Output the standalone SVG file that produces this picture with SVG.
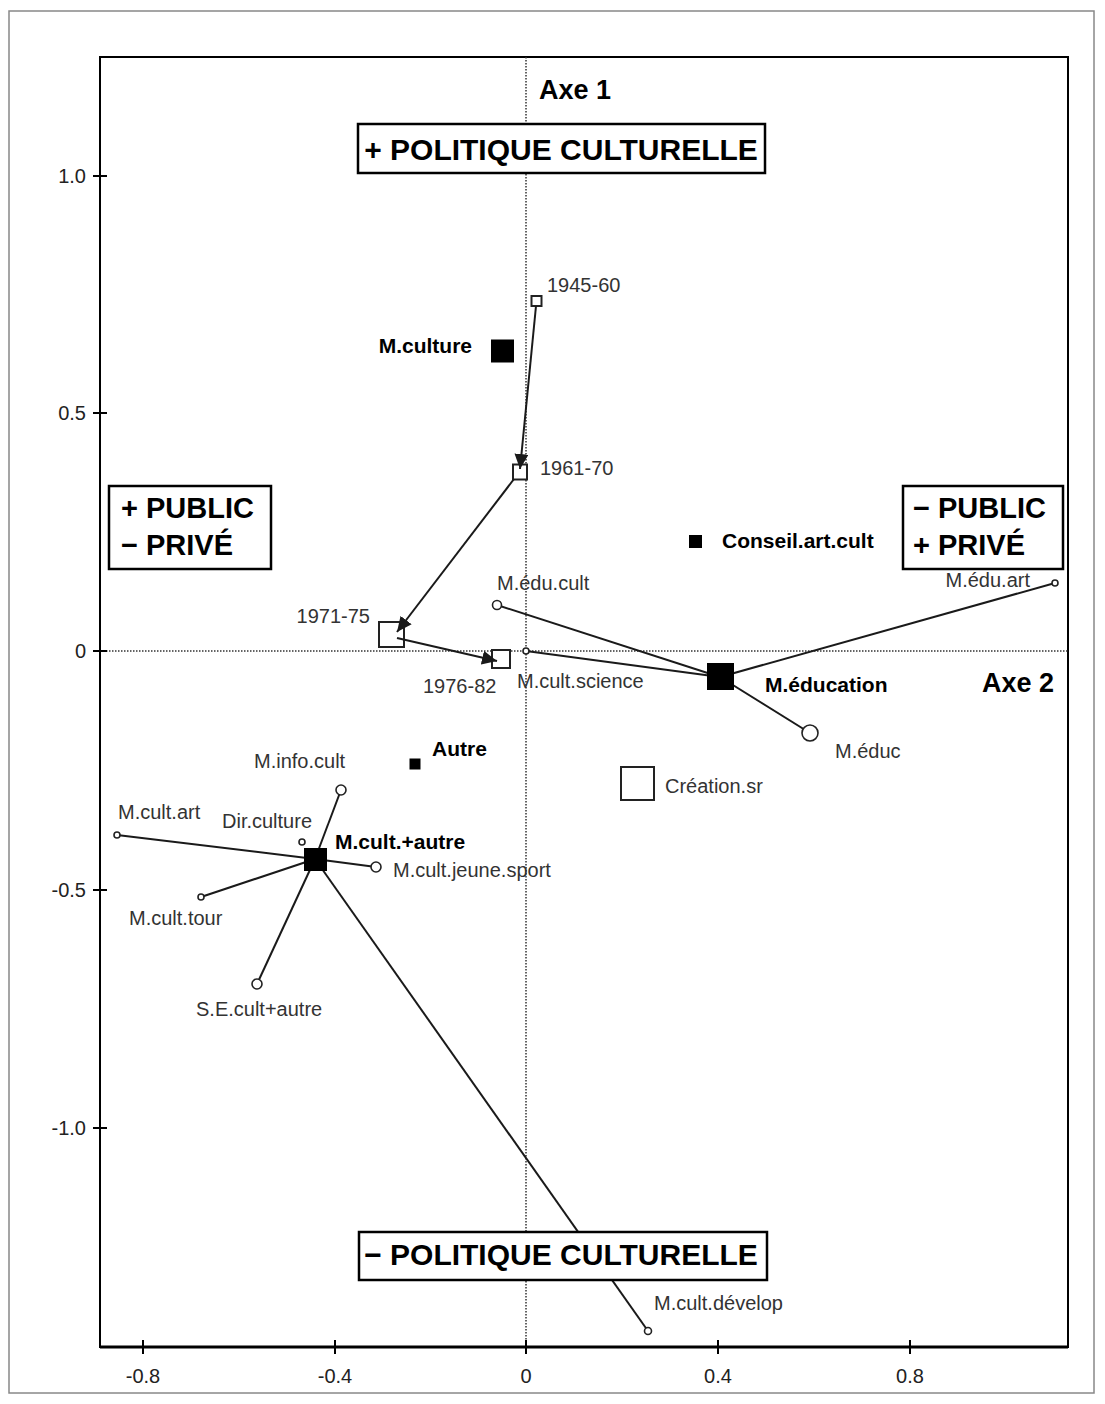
<svg xmlns="http://www.w3.org/2000/svg" width="1105" height="1404" viewBox="0 0 1105 1404">
<style>
.lbl{font-family:"Liberation Sans",Arial,sans-serif;font-size:20px;fill:#333}
.bl{font-family:"Liberation Sans",Arial,sans-serif;font-size:21px;font-weight:bold;fill:#000}
.big{font-family:"Liberation Sans",Arial,sans-serif;font-size:30px;font-weight:bold;fill:#000}
.box{font-family:"Liberation Sans",Arial,sans-serif;font-size:29px;font-weight:bold;fill:#000}
.tick{font-family:"Liberation Sans",Arial,sans-serif;font-size:20px;fill:#222}
.ax{stroke:#333;stroke-width:1.5;stroke-dasharray:1.5 1.5;fill:none}
.ln{stroke:#1a1a1a;stroke-width:2;fill:none}
.osq{fill:#fff;stroke:#222;stroke-width:2}
.fsq{fill:#000;stroke:none}
.oc{fill:#fff;stroke:#222;stroke-width:1.6}
.frm{fill:#fff;stroke:#000;stroke-width:2.5}
</style>
<defs>
<marker id="ah" markerUnits="userSpaceOnUse" markerWidth="16" markerHeight="14" refX="15" refY="7" orient="auto">
<path d="M0,0 L15,7 L0,14 Z" fill="#1a1a1a"/>
</marker>
</defs>
<rect x="9" y="11" width="1085" height="1382" fill="#fff" stroke="#888" stroke-width="1.5"/>
<g id="plot-frame">
<rect x="100" y="57" width="968" height="1290" fill="none" stroke="#000" stroke-width="2"/>
<line x1="100" y1="1347" x2="1068" y2="1347" stroke="#000" stroke-width="3"/>
</g>
<g id="axes">
<line class="ax" x1="526" y1="57" x2="526" y2="1347"/>
<line class="ax" x1="100" y1="651" x2="1068" y2="651"/>
<g stroke="#000" stroke-width="2">
<line x1="93" y1="176" x2="107" y2="176"/>
<line x1="93" y1="413" x2="107" y2="413"/>
<line x1="93" y1="651" x2="107" y2="651"/>
<line x1="93" y1="890" x2="107" y2="890"/>
<line x1="93" y1="1128" x2="107" y2="1128"/>
<line x1="143" y1="1340" x2="143" y2="1354"/>
<line x1="335" y1="1340" x2="335" y2="1354"/>
<line x1="526" y1="1340" x2="526" y2="1354"/>
<line x1="718" y1="1340" x2="718" y2="1354"/>
<line x1="910" y1="1340" x2="910" y2="1354"/>
</g>
<g class="tick" text-anchor="end">
<text x="86" y="183">1.0</text>
<text x="86" y="420">0.5</text>
<text x="86" y="658">0</text>
<text x="86" y="897">-0.5</text>
<text x="86" y="1135">-1.0</text>
</g>
<g class="tick" text-anchor="middle">
<text x="143" y="1383">-0.8</text>
<text x="335" y="1383">-0.4</text>
<text x="526" y="1383">0</text>
<text x="718" y="1383">0.4</text>
<text x="910" y="1383">0.8</text>
</g>
<text class="bl" x="539" y="99" style="font-size:27px">Axe 1</text>
<text class="bl" x="982" y="692" style="font-size:27px">Axe 2</text>
</g>
<g id="connectors">
<line class="ln" x1="720" y1="677" x2="497" y2="605"/>
<line class="ln" x1="720" y1="677" x2="526" y2="651"/>
<line class="ln" x1="720" y1="677" x2="1055" y2="583"/>
<line class="ln" x1="720" y1="677" x2="810" y2="733"/>
<line class="ln" x1="315" y1="859" x2="341" y2="790"/>
<line class="ln" x1="315" y1="859" x2="117" y2="835"/>
<line class="ln" x1="315" y1="859" x2="376" y2="867"/>
<line class="ln" x1="315" y1="859" x2="201" y2="897"/>
<line class="ln" x1="315" y1="859" x2="257" y2="984"/>
<line class="ln" x1="315" y1="859" x2="648" y2="1331"/>
</g>
<g id="box-plus-politique">
<rect class="frm" x="358" y="124" width="407" height="49"/>
<text class="big" x="561" y="160" text-anchor="middle">+ POLITIQUE CULTURELLE</text>
</g>
<g id="box-minus-politique">
<rect class="frm" x="359" y="1232" width="408" height="48"/>
<text class="big" x="561" y="1265" text-anchor="middle">− POLITIQUE CULTURELLE</text>
</g>
<g id="box-plus-public">
<rect class="frm" x="109" y="486" width="162" height="83"/>
<text class="box" x="121" y="518">+ PUBLIC</text>
<text class="box" x="121" y="555">− PRIVÉ</text>
</g>
<g id="box-minus-public">
<rect class="frm" x="903" y="486" width="160" height="83"/>
<text class="box" x="913" y="518">− PUBLIC</text>
<text class="box" x="913" y="555">+ PRIVÉ</text>
</g>
<g id="n-1945-60"><rect class="osq" x="531.5" y="296" width="10" height="10"/><text class="lbl" x="547" y="292">1945-60</text></g>
<g id="n-1961-70"><rect class="osq" x="513" y="464.5" width="14" height="15"/><text class="lbl" x="540" y="475">1961-70</text></g>
<g id="n-1971-75"><rect class="osq" x="379" y="622" width="25" height="25"/><text class="lbl" x="370" y="623" text-anchor="end">1971-75</text></g>
<g id="n-1976-82"><rect class="osq" x="492" y="650" width="18" height="18"/><text class="lbl" x="423" y="693">1976-82</text></g>
<g id="n-creation"><rect class="osq" x="621" y="767" width="33" height="33"/><text class="lbl" x="665" y="793">Création.sr</text></g>
<g id="n-mculture"><rect class="fsq" x="491" y="339.5" width="23" height="23"/><text class="bl" x="472" y="353" text-anchor="end">M.culture</text></g>
<g id="n-conseil"><rect class="fsq" x="689" y="535" width="13" height="13"/><text class="bl" x="722" y="548">Conseil.art.cult</text></g>
<g id="n-autre"><rect class="fsq" x="409.5" y="758.5" width="11" height="11"/><text class="bl" x="432" y="756">Autre</text></g>
<g id="n-meducation"><rect class="fsq" x="707" y="663" width="27" height="27"/><text class="bl" x="765" y="692">M.éducation</text></g>
<g id="n-mcultautre"><rect class="fsq" x="304" y="848" width="23" height="23"/><text class="bl" x="335" y="849">M.cult.+autre</text></g>
<g id="n-meducult"><circle class="oc" cx="497" cy="605" r="4.5"/><text class="lbl" x="497" y="590">M.édu.cult</text></g>
<g id="n-mcultscience"><circle class="oc" cx="526" cy="651" r="3"/><text class="lbl" x="517" y="688">M.cult.science</text></g>
<g id="n-meduc"><circle class="oc" cx="810" cy="733" r="8"/><text class="lbl" x="835" y="758">M.éduc</text></g>
<g id="n-meduart"><circle class="oc" cx="1055" cy="583" r="3"/><text class="lbl" x="1030" y="587" text-anchor="end">M.édu.art</text></g>
<g id="n-minfocult"><circle class="oc" cx="341" cy="790" r="5"/><text class="lbl" x="254" y="768">M.info.cult</text></g>
<g id="n-mcultart"><circle class="oc" cx="117" cy="835" r="3"/><text class="lbl" x="118" y="819">M.cult.art</text></g>
<g id="n-dirculture"><circle class="oc" cx="302" cy="842" r="3"/><text class="lbl" x="222" y="828">Dir.culture</text></g>
<g id="n-mcultjeune"><circle class="oc" cx="376" cy="867" r="5"/><text class="lbl" x="393" y="877">M.cult.jeune.sport</text></g>
<g id="n-mculttour"><circle class="oc" cx="201" cy="897" r="3"/><text class="lbl" x="129" y="925">M.cult.tour</text></g>
<g id="n-secult"><circle class="oc" cx="257" cy="984" r="5"/><text class="lbl" x="196" y="1016">S.E.cult+autre</text></g>
<g id="n-mcultdevelop"><circle class="oc" cx="648" cy="1331" r="3.5"/><text class="lbl" x="654" y="1310">M.cult.dévelop</text></g>
<g id="arrows">
<line class="ln" x1="536" y1="306" x2="520" y2="469" marker-end="url(#ah)"/>
<line class="ln" x1="514" y1="479" x2="397" y2="632" marker-end="url(#ah)"/>
<line class="ln" x1="397" y1="638" x2="497" y2="661" marker-end="url(#ah)"/>
</g>
</svg>
